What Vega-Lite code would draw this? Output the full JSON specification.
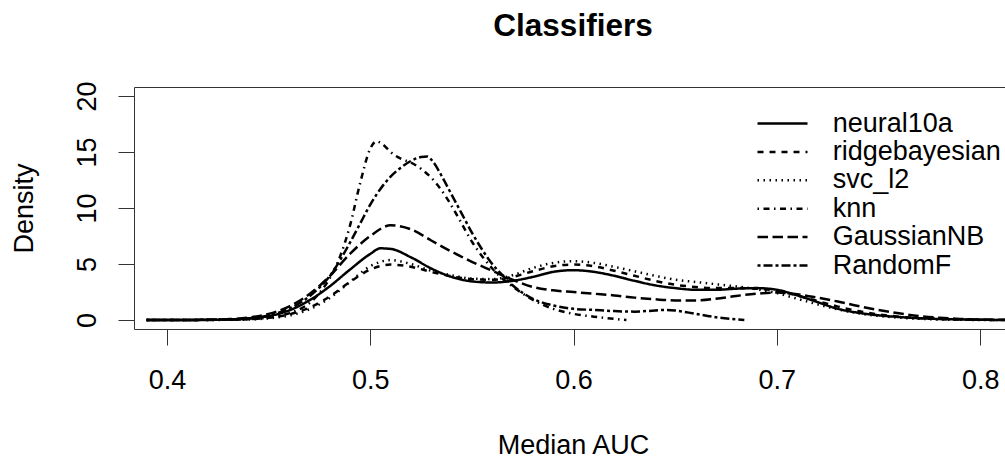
{
  "$schema": "https://vega.github.io/schema/vega-lite/v6.json",
  "autosize": {"type": "none"},
  "padding": {"left": 134, "top": 87, "right": 0, "bottom": 130},
  "width": 872,
  "height": 242,
  "background": "white",
  "config": {
    "font": "Liberation Sans",
    "view": {"stroke": "#333", "strokeWidth": 1}
  },
  "title": {
    "text": "Classifiers",
    "fontSize": 31.5,
    "fontWeight": "bold",
    "color": "black",
    "anchor": "middle",
    "frame": "group",
    "baseline": "alphabetic",
    "offset": 13,
    "dx": 3
  },
  "data": {
    "values": [
      {"s":"neural10a","x":0.39,"y":0},{"s":"neural10a","x":0.40,"y":0},{"s":"neural10a","x":0.41,"y":0.01},{"s":"neural10a","x":0.42,"y":0.02},{"s":"neural10a","x":0.43,"y":0.05},{"s":"neural10a","x":0.44,"y":0.13},{"s":"neural10a","x":0.45,"y":0.35},{"s":"neural10a","x":0.46,"y":0.85},{"s":"neural10a","x":0.47,"y":1.75},{"s":"neural10a","x":0.48,"y":3.0},{"s":"neural10a","x":0.49,"y":4.5},{"s":"neural10a","x":0.50,"y":5.9},{"s":"neural10a","x":0.505,"y":6.4},{"s":"neural10a","x":0.51,"y":6.35},{"s":"neural10a","x":0.52,"y":5.6},{"s":"neural10a","x":0.53,"y":4.6},{"s":"neural10a","x":0.54,"y":3.85},{"s":"neural10a","x":0.55,"y":3.45},{"s":"neural10a","x":0.56,"y":3.35},{"s":"neural10a","x":0.57,"y":3.5},{"s":"neural10a","x":0.58,"y":3.85},{"s":"neural10a","x":0.59,"y":4.3},{"s":"neural10a","x":0.60,"y":4.45},{"s":"neural10a","x":0.61,"y":4.3},{"s":"neural10a","x":0.62,"y":3.95},{"s":"neural10a","x":0.63,"y":3.5},{"s":"neural10a","x":0.64,"y":3.1},{"s":"neural10a","x":0.65,"y":2.85},{"s":"neural10a","x":0.66,"y":2.7},{"s":"neural10a","x":0.67,"y":2.7},{"s":"neural10a","x":0.68,"y":2.8},{"s":"neural10a","x":0.69,"y":2.85},{"s":"neural10a","x":0.70,"y":2.7},{"s":"neural10a","x":0.71,"y":2.2},{"s":"neural10a","x":0.72,"y":1.6},{"s":"neural10a","x":0.73,"y":1.0},{"s":"neural10a","x":0.74,"y":0.65},{"s":"neural10a","x":0.75,"y":0.42},{"s":"neural10a","x":0.76,"y":0.27},{"s":"neural10a","x":0.77,"y":0.16},{"s":"neural10a","x":0.78,"y":0.09},{"s":"neural10a","x":0.79,"y":0.05},{"s":"neural10a","x":0.80,"y":0.02},{"s":"neural10a","x":0.81,"y":0.01},{"s":"neural10a","x":0.82,"y":0},

      {"s":"ridgebayesian","x":0.39,"y":0},{"s":"ridgebayesian","x":0.42,"y":0.01},{"s":"ridgebayesian","x":0.43,"y":0.03},{"s":"ridgebayesian","x":0.44,"y":0.07},{"s":"ridgebayesian","x":0.45,"y":0.2},{"s":"ridgebayesian","x":0.46,"y":0.5},{"s":"ridgebayesian","x":0.47,"y":1.1},{"s":"ridgebayesian","x":0.48,"y":2.1},{"s":"ridgebayesian","x":0.49,"y":3.4},{"s":"ridgebayesian","x":0.50,"y":4.5},{"s":"ridgebayesian","x":0.51,"y":4.95},{"s":"ridgebayesian","x":0.52,"y":4.75},{"s":"ridgebayesian","x":0.53,"y":4.3},{"s":"ridgebayesian","x":0.54,"y":3.9},{"s":"ridgebayesian","x":0.55,"y":3.65},{"s":"ridgebayesian","x":0.56,"y":3.6},{"s":"ridgebayesian","x":0.57,"y":3.85},{"s":"ridgebayesian","x":0.58,"y":4.35},{"s":"ridgebayesian","x":0.59,"y":4.8},{"s":"ridgebayesian","x":0.60,"y":4.95},{"s":"ridgebayesian","x":0.61,"y":4.8},{"s":"ridgebayesian","x":0.62,"y":4.4},{"s":"ridgebayesian","x":0.63,"y":3.95},{"s":"ridgebayesian","x":0.64,"y":3.5},{"s":"ridgebayesian","x":0.65,"y":3.15},{"s":"ridgebayesian","x":0.66,"y":2.95},{"s":"ridgebayesian","x":0.67,"y":2.85},{"s":"ridgebayesian","x":0.68,"y":2.85},{"s":"ridgebayesian","x":0.69,"y":2.8},{"s":"ridgebayesian","x":0.70,"y":2.6},{"s":"ridgebayesian","x":0.71,"y":2.2},{"s":"ridgebayesian","x":0.72,"y":1.7},{"s":"ridgebayesian","x":0.73,"y":1.2},{"s":"ridgebayesian","x":0.74,"y":0.8},{"s":"ridgebayesian","x":0.75,"y":0.5},{"s":"ridgebayesian","x":0.76,"y":0.3},{"s":"ridgebayesian","x":0.77,"y":0.17},{"s":"ridgebayesian","x":0.78,"y":0.09},{"s":"ridgebayesian","x":0.79,"y":0.04},{"s":"ridgebayesian","x":0.80,"y":0.02},{"s":"ridgebayesian","x":0.81,"y":0.01},{"s":"ridgebayesian","x":0.82,"y":0},

      {"s":"svc_l2","x":0.39,"y":0},{"s":"svc_l2","x":0.42,"y":0.01},{"s":"svc_l2","x":0.43,"y":0.02},{"s":"svc_l2","x":0.44,"y":0.05},{"s":"svc_l2","x":0.45,"y":0.15},{"s":"svc_l2","x":0.46,"y":0.4},{"s":"svc_l2","x":0.47,"y":0.95},{"s":"svc_l2","x":0.48,"y":1.95},{"s":"svc_l2","x":0.49,"y":3.4},{"s":"svc_l2","x":0.50,"y":4.8},{"s":"svc_l2","x":0.51,"y":5.35},{"s":"svc_l2","x":0.52,"y":5.0},{"s":"svc_l2","x":0.53,"y":4.4},{"s":"svc_l2","x":0.54,"y":4.0},{"s":"svc_l2","x":0.55,"y":3.7},{"s":"svc_l2","x":0.56,"y":3.65},{"s":"svc_l2","x":0.57,"y":4.0},{"s":"svc_l2","x":0.58,"y":4.65},{"s":"svc_l2","x":0.59,"y":5.1},{"s":"svc_l2","x":0.60,"y":5.25},{"s":"svc_l2","x":0.61,"y":5.1},{"s":"svc_l2","x":0.62,"y":4.75},{"s":"svc_l2","x":0.63,"y":4.35},{"s":"svc_l2","x":0.64,"y":3.95},{"s":"svc_l2","x":0.65,"y":3.6},{"s":"svc_l2","x":0.66,"y":3.4},{"s":"svc_l2","x":0.67,"y":3.2},{"s":"svc_l2","x":0.68,"y":3.0},{"s":"svc_l2","x":0.69,"y":2.75},{"s":"svc_l2","x":0.70,"y":2.4},{"s":"svc_l2","x":0.71,"y":1.9},{"s":"svc_l2","x":0.72,"y":1.4},{"s":"svc_l2","x":0.73,"y":0.95},{"s":"svc_l2","x":0.74,"y":0.6},{"s":"svc_l2","x":0.75,"y":0.37},{"s":"svc_l2","x":0.76,"y":0.21},{"s":"svc_l2","x":0.77,"y":0.11},{"s":"svc_l2","x":0.78,"y":0.05},{"s":"svc_l2","x":0.79,"y":0.02},{"s":"svc_l2","x":0.80,"y":0.01},{"s":"svc_l2","x":0.81,"y":0},

      {"s":"knn","x":0.39,"y":0},{"s":"knn","x":0.42,"y":0.01},{"s":"knn","x":0.43,"y":0.03},{"s":"knn","x":0.44,"y":0.08},{"s":"knn","x":0.45,"y":0.22},{"s":"knn","x":0.46,"y":0.6},{"s":"knn","x":0.47,"y":1.5},{"s":"knn","x":0.475,"y":2.4},{"s":"knn","x":0.48,"y":3.7},{"s":"knn","x":0.485,"y":5.6},{"s":"knn","x":0.49,"y":8.4},{"s":"knn","x":0.495,"y":12.2},{"s":"knn","x":0.50,"y":15.3},{"s":"knn","x":0.503,"y":15.95},{"s":"knn","x":0.506,"y":15.7},{"s":"knn","x":0.51,"y":15.0},{"s":"knn","x":0.515,"y":14.4},{"s":"knn","x":0.52,"y":14.05},{"s":"knn","x":0.525,"y":13.5},{"s":"knn","x":0.53,"y":12.7},{"s":"knn","x":0.535,"y":11.6},{"s":"knn","x":0.54,"y":10.2},{"s":"knn","x":0.545,"y":8.6},{"s":"knn","x":0.55,"y":7.0},{"s":"knn","x":0.555,"y":5.7},{"s":"knn","x":0.56,"y":4.6},{"s":"knn","x":0.565,"y":3.7},{"s":"knn","x":0.57,"y":3.0},{"s":"knn","x":0.58,"y":1.8},{"s":"knn","x":0.59,"y":1.0},{"s":"knn","x":0.60,"y":0.55},{"s":"knn","x":0.61,"y":0.3},{"s":"knn","x":0.62,"y":0.1},{"s":"knn","x":0.626,"y":0},

      {"s":"GaussianNB","x":0.39,"y":0},{"s":"GaussianNB","x":0.41,"y":0.01},{"s":"GaussianNB","x":0.42,"y":0.03},{"s":"GaussianNB","x":0.43,"y":0.08},{"s":"GaussianNB","x":0.44,"y":0.22},{"s":"GaussianNB","x":0.45,"y":0.55},{"s":"GaussianNB","x":0.46,"y":1.2},{"s":"GaussianNB","x":0.47,"y":2.3},{"s":"GaussianNB","x":0.48,"y":3.9},{"s":"GaussianNB","x":0.49,"y":5.9},{"s":"GaussianNB","x":0.50,"y":7.5},{"s":"GaussianNB","x":0.51,"y":8.45},{"s":"GaussianNB","x":0.52,"y":8.1},{"s":"GaussianNB","x":0.53,"y":7.1},{"s":"GaussianNB","x":0.54,"y":6.1},{"s":"GaussianNB","x":0.55,"y":5.2},{"s":"GaussianNB","x":0.56,"y":4.4},{"s":"GaussianNB","x":0.57,"y":3.6},{"s":"GaussianNB","x":0.58,"y":2.95},{"s":"GaussianNB","x":0.59,"y":2.65},{"s":"GaussianNB","x":0.60,"y":2.5},{"s":"GaussianNB","x":0.61,"y":2.35},{"s":"GaussianNB","x":0.62,"y":2.2},{"s":"GaussianNB","x":0.63,"y":2.0},{"s":"GaussianNB","x":0.64,"y":1.85},{"s":"GaussianNB","x":0.65,"y":1.75},{"s":"GaussianNB","x":0.66,"y":1.75},{"s":"GaussianNB","x":0.67,"y":1.9},{"s":"GaussianNB","x":0.68,"y":2.15},{"s":"GaussianNB","x":0.69,"y":2.35},{"s":"GaussianNB","x":0.70,"y":2.45},{"s":"GaussianNB","x":0.71,"y":2.3},{"s":"GaussianNB","x":0.72,"y":2.0},{"s":"GaussianNB","x":0.73,"y":1.65},{"s":"GaussianNB","x":0.74,"y":1.25},{"s":"GaussianNB","x":0.75,"y":0.9},{"s":"GaussianNB","x":0.76,"y":0.6},{"s":"GaussianNB","x":0.77,"y":0.36},{"s":"GaussianNB","x":0.78,"y":0.2},{"s":"GaussianNB","x":0.79,"y":0.1},{"s":"GaussianNB","x":0.80,"y":0.05},{"s":"GaussianNB","x":0.81,"y":0.02},{"s":"GaussianNB","x":0.82,"y":0.01},

      {"s":"RandomF","x":0.39,"y":0},{"s":"RandomF","x":0.42,"y":0.02},{"s":"RandomF","x":0.43,"y":0.05},{"s":"RandomF","x":0.44,"y":0.15},{"s":"RandomF","x":0.45,"y":0.4},{"s":"RandomF","x":0.46,"y":1.0},{"s":"RandomF","x":0.47,"y":2.1},{"s":"RandomF","x":0.475,"y":2.9},{"s":"RandomF","x":0.48,"y":3.9},{"s":"RandomF","x":0.485,"y":5.3},{"s":"RandomF","x":0.49,"y":6.9},{"s":"RandomF","x":0.495,"y":8.6},{"s":"RandomF","x":0.50,"y":10.3},{"s":"RandomF","x":0.505,"y":11.7},{"s":"RandomF","x":0.51,"y":12.8},{"s":"RandomF","x":0.515,"y":13.6},{"s":"RandomF","x":0.52,"y":14.2},{"s":"RandomF","x":0.525,"y":14.55},{"s":"RandomF","x":0.528,"y":14.6},{"s":"RandomF","x":0.531,"y":14.1},{"s":"RandomF","x":0.535,"y":12.9},{"s":"RandomF","x":0.54,"y":11.2},{"s":"RandomF","x":0.545,"y":9.5},{"s":"RandomF","x":0.55,"y":7.8},{"s":"RandomF","x":0.555,"y":6.3},{"s":"RandomF","x":0.56,"y":5.0},{"s":"RandomF","x":0.565,"y":4.0},{"s":"RandomF","x":0.57,"y":3.1},{"s":"RandomF","x":0.58,"y":1.9},{"s":"RandomF","x":0.59,"y":1.3},{"s":"RandomF","x":0.60,"y":1.0},{"s":"RandomF","x":0.61,"y":0.9},{"s":"RandomF","x":0.62,"y":0.8},{"s":"RandomF","x":0.63,"y":0.75},{"s":"RandomF","x":0.64,"y":0.85},{"s":"RandomF","x":0.645,"y":0.9},{"s":"RandomF","x":0.65,"y":0.85},{"s":"RandomF","x":0.66,"y":0.55},{"s":"RandomF","x":0.67,"y":0.25},{"s":"RandomF","x":0.68,"y":0.06},{"s":"RandomF","x":0.684,"y":0}
    ]
  },
  "mark": {"type": "line", "color": "black", "strokeWidth": 2.5, "clip": true, "interpolate": "monotone"},
  "encoding": {
    "x": {
      "field": "x", "type": "quantitative",
      "scale": {"domain": [0.3838, 0.8127], "nice": false, "zero": false},
      "axis": {
        "values": [0.4, 0.5, 0.6, 0.7, 0.8], "format": ".1f",
        "grid": false, "domain": false,
        "tickSize": 16, "tickColor": "#333", "tickWidth": 1,
        "labelFontSize": 27, "labelColor": "black", "labelPadding": 22, "labelFlush": false, "labelOverlap": false,
        "title": "Median AUC", "titleFontSize": 27, "titleFontWeight": "normal", "titleColor": "black",
        "titleBaseline": "alphabetic", "titleAlign": "center", "titleX": 439, "titleY": 124
      }
    },
    "y": {
      "field": "y", "type": "quantitative",
      "scale": {"domain": [-0.8, 20.8], "nice": false, "zero": false},
      "axis": {
        "values": [0, 5, 10, 15, 20],
        "grid": false, "domain": false,
        "tickSize": 16, "tickColor": "#333", "tickWidth": 1,
        "labelFontSize": 27, "labelColor": "black", "labelPadding": 23, "labelAngle": 270,
        "labelAlign": "center", "labelBaseline": "alphabetic", "labelFlush": false, "labelOverlap": false,
        "title": "Density", "titleFontSize": 27, "titleFontWeight": "normal", "titleColor": "black",
        "titleAngle": 270, "titleBaseline": "alphabetic", "titleAlign": "center", "titleX": -102, "titleY": 121
      }
    },
    "strokeDash": {
      "field": "s", "type": "nominal",
      "scale": {
        "domain": ["neural10a", "ridgebayesian", "svc_l2", "knn", "GaussianNB", "RandomF"],
        "range": [[1, 0], [6, 6], [1.5, 4.5], [1.5, 4.5, 6, 4.5], [10.5, 4.5], [3, 3, 9, 3]]
      },
      "legend": {
        "orient": "none", "legendX": 635, "legendY": 23, "title": null, "padding": 0,
        "symbolType": "M-5,0H5", "symbolSize": 100, "symbolStrokeWidth": 2.5, "symbolStrokeColor": "black",
        "symbolFillColor": "transparent",
        "labelFontSize": 27, "labelColor": "black", "labelOffset": 36.7, "labelBaseline": "middle",
        "rowPadding": 0.4, "labelLimit": 400
      }
    }
  }
}
